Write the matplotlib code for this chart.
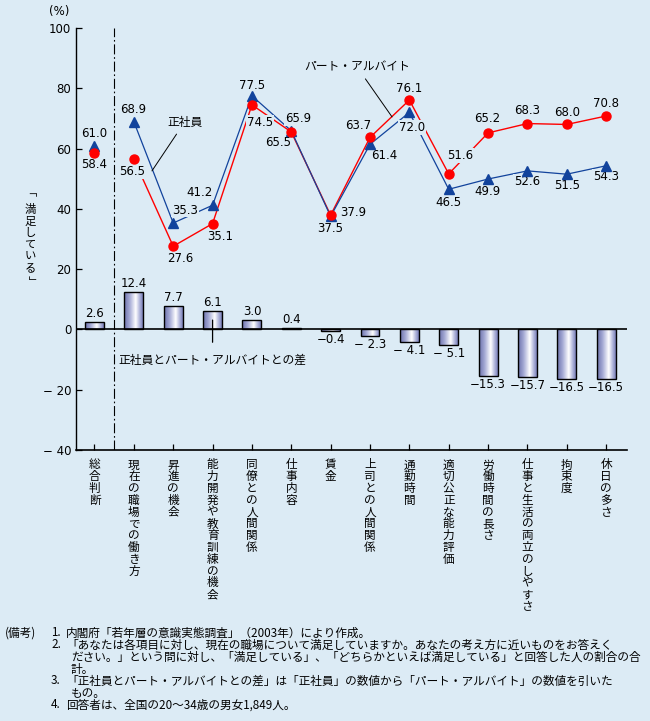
import numpy as np
import matplotlib
matplotlib.use('Agg')
import matplotlib.pyplot as plt
from matplotlib.colors import LinearSegmentedColormap

plt.rcParams['font.family'] = ['Noto Sans CJK JP', 'DejaVu Sans']

categories = ['総合判断', '現在の職場での働き方', '昇進の機会', '能力開発や教育訓練の機会',
              '同僚との人間関係', '仕事内容', '賃金', '上司との人間関係', '通勤時間',
              '適切公正な能力評価', '労働時間の長さ', '仕事と生活の両立のしやすさ',
              '拘束度', '休日の多さ']
seishain = [61.0, 68.9, 35.3, 41.2, 77.5, 65.9, 37.5, 61.4, 72.0, 46.5, 49.9, 52.6, 51.5, 54.3]
part_time = [58.4, 56.5, 27.6, 35.1, 74.5, 65.5, 37.9, 63.7, 76.1, 51.6, 65.2, 68.3, 68.0, 70.8]
difference = [2.6, 12.4, 7.7, 6.1, 3.0, 0.4, -0.4, -2.3, -4.1, -5.1, -15.3, -15.7, -16.5, -16.5]
yticks = [-40, -20, 0, 20, 40, 60, 80, 100]
ytick_labels = ['− 40', '− 20', '0', '20', '40', '60', '80', '100']
ylabel_chars = ['満', '足', 'し', 'て', 'い', 'る']

notes = [
    ('1.', '内閣府「若年層の意識実態調査」（2003年）により作成。'),
    ('2.', '「あなたは各項目に対し、現在の職場について満足していますか。あなたの考え方に近いものをお答えく'),
    ('', 'ださい。」という問に対し、「満足している」、「どちらかといえば満足している」と回答した人の割合の合'),
    ('', '計。'),
    ('3.', '「正社員とパート・アルバイトとの差」は「正社員」の数値から「パート・アルバイト」の数値を引いた'),
    ('', 'もの。'),
    ('4.', '回答者は、全国の20～34歳の男女1,849人。'),
]

# label offsets in pixels (dx right, dy down) from each marker
part_offsets = [(0, 11), (-2, 12), (7, 12), (8, 13), (8, 18), (-13, 11), (23, -3),
                (-12, -12), (0, -12), (11, -18), (-1, -14), (0, -13), (0, -12), (0, -13)]
sei_offsets = [(0, -12), (-1, -12), (12, -13), (-13, -13), (0, -10), (7, -12), (0, 12),
               (14, 11), (3, 15), (0, 13), (-1, 12), (0, 11), (0, 11), (0, 11)]

BG = '#dcebf5'
BLUE = '#12439c'
RED = '#ff0000'
W, H = 650, 721


def fig_xy(px, py):
    return px / W, 1 - py / H


fig = plt.figure(figsize=(W / 100, H / 100), dpi=100, facecolor=BG)
ax = fig.add_axes([76 / W, 1 - 450 / H, (627 - 76) / W, (450 - 28) / H])
ax.set_facecolor(BG)

x = np.arange(len(categories))

# gradient bars
cmap = LinearSegmentedColormap.from_list(
    'bar', [(0, '#6c72ac'), (0.3, '#a6abd5'), (0.62, '#ffffff'), (0.85, '#abb0d8'), (1, '#7a80b8')])
grad = np.linspace(0, 1, 64).reshape(1, -1)
bars = ax.bar(x, difference, width=0.48, facecolor='none', edgecolor='black',
              linewidth=1.0, zorder=3)
for b in bars:
    bx, by, bw, bh = b.get_x(), b.get_y(), b.get_width(), b.get_height()
    im = ax.imshow(grad, cmap=cmap, aspect='auto', interpolation='bilinear',
                   extent=(bx, bx + bw, min(by, by + bh), max(by, by + bh)), zorder=2.5)
    im.set_clip_path(b)

for xi, v in zip(x, difference):
    if v >= 0:
        ax.annotate(f'{v:.1f}', xy=(xi, v), xytext=(0, 1.5), textcoords='offset points',
                    ha='center', va='bottom', fontsize=8.5, family='DejaVu Sans')
    else:
        txt = f'−{abs(v):.1f}' if abs(v) >= 10 or abs(v) < 1 else f'− {abs(v):.1f}'
        ax.annotate(txt, xy=(xi, v), xytext=(0, -1.5), textcoords='offset points',
                    ha='center', va='top', fontsize=8.5, family='DejaVu Sans')

ax.axhline(0, color='black', lw=1.2, zorder=4)
ax.axvline(0.5, color='black', lw=0.8, linestyle=(0, (9, 2.5, 1.5, 2.5)), zorder=1)

# lines
ax.plot(x[1:], part_time[1:], color=RED, lw=1.0, zorder=2)
ax.plot(x[1:], seishain[1:], color=BLUE, lw=0.9, zorder=2)
ax.plot(x, seishain, '^', color=BLUE, ms=7, zorder=6)
ax.plot(x, part_time, 'o', color=RED, ms=6.5, zorder=6)

box = dict(boxstyle='square,pad=0.08', fc=BG, ec='none')
for xi, v, (dx, dy) in zip(x, part_time, part_offsets):
    ax.annotate(f'{v:.1f}', xy=(xi, v), xytext=(dx * 0.72, -dy * 0.72),
                textcoords='offset points', ha='center', va='center',
                fontsize=8.5, family='DejaVu Sans', bbox=box, zorder=5)
for xi, v, (dx, dy) in zip(x, seishain, sei_offsets):
    ax.annotate(f'{v:.1f}', xy=(xi, v), xytext=(dx * 0.72, -dy * 0.72),
                textcoords='offset points', ha='center', va='center',
                fontsize=8.5, family='DejaVu Sans', bbox=box, zorder=5)

# series annotations
ax.annotate('正社員', xy=(1.46, 52.6), xytext=(2.29, 68.8), ha='center', va='center',
            fontsize=8.5, zorder=5, bbox=box,
            arrowprops=dict(arrowstyle='-', color='black', lw=0.7, shrinkA=4, shrinkB=0))
ax.annotate('パート・アルバイト', xy=(7.56, 70.5), xytext=(6.67, 87.1), ha='center', va='center',
            fontsize=8.5, zorder=5, bbox=box,
            arrowprops=dict(arrowstyle='-', color='black', lw=0.7, shrinkA=4, shrinkB=0))
ax.annotate('正社員とパート・アルバイトとの差', xy=(3.0, 3.1), xytext=(3.0, -10.1),
            ha='center', va='center', fontsize=8.5, zorder=5,
            arrowprops=dict(arrowstyle='-', color='black', lw=0.9, shrinkA=6, shrinkB=0))

ax.set_xlim(-0.47, 13.53)
ax.set_ylim(-40, 100)
ax.set_yticks(yticks)
ax.set_yticklabels(ytick_labels, family='DejaVu Sans', fontsize=8.5)
ax.set_xticks(x)
ax.set_xticklabels([])
ax.tick_params(axis='y', direction='in', length=4, width=0.9, pad=3.5)
ax.tick_params(axis='x', direction='in', length=4.5, width=0.9)
for s in ['top', 'right']:
    ax.spines[s].set_visible(False)
ax.spines['left'].set_linewidth(1.0)
ax.spines['bottom'].set_linewidth(1.2)

# vertical category labels
for xi, label in zip(x, categories):
    for k, ch in enumerate(label):
        ax.annotate(ch, xy=(xi, 0), xycoords=('data', 'axes fraction'),
                    xytext=(0, -(15 + k * 11.8) * 0.72), textcoords='offset points',
                    ha='center', va='center', fontsize=8.4)

# vertical y label with rotated corner brackets
fig.text(*fig_xy(23, 198), '「', ha='center', va='center', fontsize=8.0, rotation=-90)
for k, ch in enumerate(ylabel_chars):
    fig.text(*fig_xy(30, 209.5 + k * 11.8), ch, ha='center', va='center', fontsize=8.2)
fig.text(*fig_xy(32, 281), '」', ha='center', va='center', fontsize=8.0, rotation=-90)

fig.text(*fig_xy(59, 12), '(%)', ha='center', va='center', fontsize=8.5, family='DejaVu Sans')

# notes
fig.text(*fig_xy(5, 633), '(備考)', ha='left', va='center', fontsize=8.4)
for k, (num, body) in enumerate(notes):
    py = 633 + k * 12
    if num:
        fig.text(*fig_xy(51, py), num, ha='left', va='center', fontsize=8.4)
        fig.text(*fig_xy(66, py), body, ha='left', va='center', fontsize=8.4)
    else:
        fig.text(*fig_xy(71, py), body, ha='left', va='center', fontsize=8.4)

fig.savefig('out.png', dpi=100, facecolor=BG)
